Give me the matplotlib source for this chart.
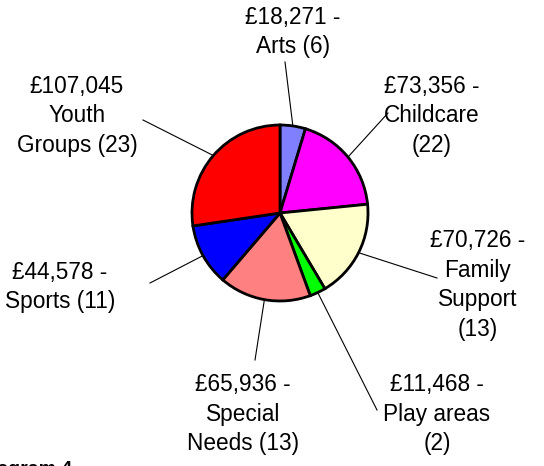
import matplotlib
matplotlib.use("Agg")
import matplotlib.pyplot as plt
import numpy as np

plt.rcParams['font.family'] = ['Liberation Sans', 'DejaVu Sans']

# grant totals by category (number of projects in brackets)
categories = ["Arts", "Childcare", "Family Support", "Play areas",
              "Special Needs", "Sports", "Youth Groups"]
amounts = [18271, 73356, 70726, 11468, 65936, 44578, 107045]
projects = [6, 22, 13, 2, 13, 11, 23]
labels = ["£18,271 -\nArts (6)",
          "£73,356 -\nChildcare\n(22)",
          "£70,726 -\nFamily\nSupport\n(13)",
          "£11,468 -\nPlay areas\n(2)",
          "£65,936 -\nSpecial\nNeeds (13)",
          "£44,578 -\nSports (11)",
          "£107,045\nYouth\nGroups (23)"]
colors = ["#8080FF", "#FF00FF", "#FFFFCC", "#00FF00",
          "#FF8080", "#0000FF", "#FF0000"]

# label text centres and end of leader lines, in pixels from top-left
text_pos = [(293, 32), (432, 116), (478, 285), (437, 414),
            (243, 414), (60, 287), (77, 116)]
line_end = [(285, 62), (388, 113), (437, 278), (377, 410),
            (255, 360), (150, 283), (143, 120)]

W, H = 544, 466
cx, cy, r = 280, 213, 88

fig = plt.figure(figsize=(W / 100, H / 100), dpi=100)
ax = fig.add_axes([0, 0, 1, 1])

wedges, _ = ax.pie(amounts, colors=colors, startangle=90, counterclock=False,
                   center=(cx, H - cy), radius=r, frame=True,
                   wedgeprops=dict(edgecolor='black', linewidth=2.0))
ax.set_xlim(0, W)
ax.set_ylim(0, H)
ax.set_aspect('equal')
ax.axis('off')

total = sum(amounts)
cum = 0
for i, val in enumerate(amounts):
    mid = 90 - 360 * (cum + val / 2) / total
    cum += val
    px = cx + r * np.cos(np.radians(mid))
    py = cy - r * np.sin(np.radians(mid))
    ex, ey = line_end[i]
    ax.plot([px, ex], [H - py, H - ey], color='black', linewidth=0.8, zorder=0)
    tx, ty = text_pos[i]
    ax.text(tx, H - ty, labels[i], ha='center', va='center', fontsize=16.3,
            linespacing=1.38)

ax.text(72, H - 474, "Diagram 4", ha='right', va='baseline', fontsize=14,
        fontweight='bold', clip_on=False)

fig.savefig("out.png", dpi=100)
